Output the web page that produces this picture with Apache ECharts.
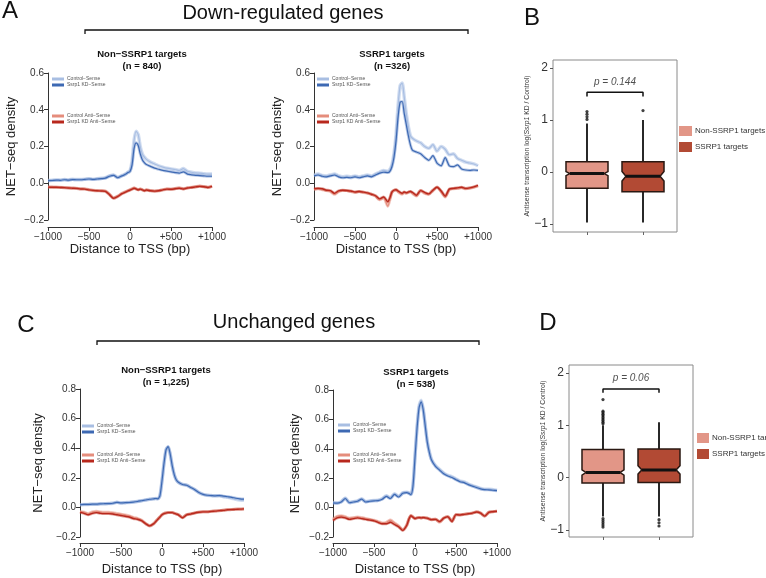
<!DOCTYPE html>
<html><head><meta charset="utf-8">
<script src="https://cdn.jsdelivr.net/npm/echarts@6/dist/echarts.min.js"></script>
<style>html,body{margin:0;padding:0;background:#fff}#c{width:766px;height:578px}</style>
</head><body><div id="c"></div>
<script>
// ---------- DATA ----------
const xs = [-1000,-950,-900,-850,-800,-750,-700,-650,-600,-550,-500,-450,-400,-350,-300,-250,-200,-150,-100,-75,-50,-25,0,25,50,75,100,125,150,175,200,250,300,350,400,450,500,550,600,650,700,750,800,850,900,950,1000];
const seriesNames = ['Control\u2212Sense','Ssrp1 KD\u2212Sense','Control Anti\u2212Sense','Ssrp1 KD Anti\u2212Sense'];

const a1CtrlSense = [0.015,0.016,0.018,0.017,0.020,0.018,0.022,0.020,0.020,0.022,0.025,0.022,0.025,0.027,0.030,0.040,0.045,0.032,0.042, 0.046,0.052,0.060,0.068,0.120,0.235,0.283,0.265,0.200,0.160,0.142, 0.130,0.115,0.105,0.095,0.088,0.082,0.078,0.075,0.070,0.080,0.065,0.060,0.056,0.055,0.052,0.050,0.050];
const a1KdSense = [0.014,0.015,0.017,0.016,0.019,0.017,0.020,0.019,0.019,0.021,0.023,0.021,0.023,0.025,0.028,0.038,0.043,0.030,0.040, 0.044,0.050,0.058,0.064,0.100,0.190,0.220,0.205,0.160,0.128,0.112, 0.102,0.092,0.082,0.076,0.070,0.066,0.062,0.058,0.055,0.062,0.050,0.046,0.043,0.042,0.040,0.038,0.038];
const a1CtrlAnti = [-0.020,-0.021,-0.022,-0.022,-0.023,-0.025,-0.026,-0.027,-0.030,-0.030,-0.035,-0.038,-0.040,-0.040,-0.042,-0.060,-0.080,-0.070,-0.055, -0.050,-0.045,-0.040,-0.035,-0.030,-0.025,-0.030,-0.035,-0.030,-0.035,-0.040, -0.035,-0.040,-0.042,-0.040,-0.035,-0.030,-0.032,-0.028,-0.025,-0.030,-0.025,-0.022,-0.018,-0.015,-0.018,-0.022,-0.015];
const a1KdAnti = [-0.021,-0.022,-0.022,-0.023,-0.024,-0.026,-0.027,-0.028,-0.031,-0.032,-0.036,-0.039,-0.041,-0.042,-0.044,-0.062,-0.082,-0.072,-0.057, -0.052,-0.047,-0.042,-0.037,-0.032,-0.027,-0.031,-0.036,-0.032,-0.036,-0.041, -0.037,-0.041,-0.043,-0.041,-0.036,-0.032,-0.033,-0.030,-0.027,-0.031,-0.026,-0.023,-0.020,-0.017,-0.019,-0.023,-0.017];

const a2CtrlSense = [0.045,0.050,0.042,0.040,0.045,0.050,0.040,0.035,0.038,0.035,0.040,0.035,0.040,0.045,0.040,0.050,0.060,0.070,0.065, 0.075,0.100,0.160,0.260,0.420,0.530,0.545,0.470,0.380,0.310,0.260, 0.245,0.230,0.220,0.200,0.190,0.210,0.175,0.200,0.185,0.155,0.160,0.135,0.125,0.115,0.110,0.105,0.095];
const a2KdSense = [0.040,0.045,0.038,0.035,0.040,0.045,0.035,0.030,0.032,0.030,0.035,0.030,0.035,0.040,0.035,0.045,0.055,0.060,0.058, 0.065,0.090,0.140,0.230,0.360,0.440,0.445,0.380,0.320,0.260,0.210, 0.180,0.170,0.160,0.140,0.125,0.150,0.110,0.095,0.140,0.095,0.090,0.100,0.078,0.072,0.070,0.072,0.070];
const a2CtrlAnti = [-0.035,-0.030,-0.035,-0.040,-0.045,-0.060,-0.045,-0.040,-0.040,-0.045,-0.050,-0.045,-0.050,-0.055,-0.060,-0.070,-0.090,-0.080,-0.125, -0.090,-0.050,-0.040,-0.035,-0.045,-0.055,-0.060,-0.050,-0.055,-0.050,-0.045, -0.055,-0.070,-0.040,-0.055,-0.060,-0.040,-0.020,-0.045,-0.075,-0.035,-0.030,-0.028,-0.025,-0.030,-0.028,-0.022,-0.015];
const a2KdAnti = [-0.030,-0.028,-0.030,-0.038,-0.040,-0.055,-0.042,-0.038,-0.040,-0.042,-0.048,-0.045,-0.048,-0.052,-0.060,-0.068,-0.085,-0.075,-0.100, -0.080,-0.048,-0.038,-0.035,-0.042,-0.050,-0.055,-0.048,-0.052,-0.048,-0.045, -0.050,-0.065,-0.040,-0.050,-0.058,-0.038,-0.022,-0.042,-0.070,-0.032,-0.028,-0.025,-0.022,-0.028,-0.025,-0.020,-0.012];

const c1CtrlSense = [0.018,0.020,0.020,0.022,0.022,0.024,0.025,0.026,0.028,0.035,0.030,0.032,0.033,0.036,0.040,0.045,0.050,0.055,0.058, 0.060,0.058,0.080,0.180,0.300,0.390,0.410,0.360,0.280,0.220,0.185, 0.170,0.155,0.150,0.135,0.120,0.100,0.088,0.082,0.080,0.078,0.078,0.072,0.068,0.062,0.055,0.050,0.048];
const c1KdSense = [0.018,0.020,0.020,0.022,0.022,0.024,0.025,0.026,0.028,0.034,0.030,0.032,0.033,0.036,0.040,0.045,0.050,0.055,0.058, 0.060,0.058,0.080,0.180,0.300,0.390,0.410,0.360,0.280,0.220,0.185, 0.170,0.155,0.150,0.135,0.120,0.100,0.088,0.082,0.080,0.078,0.080,0.076,0.072,0.068,0.062,0.058,0.056];
const c1CtrlAnti = [-0.027,-0.032,-0.042,-0.031,-0.026,-0.031,-0.033,-0.033,-0.036,-0.041,-0.046,-0.051,-0.057,-0.067,-0.074,-0.086,-0.108,-0.123,-0.108, -0.093,-0.078,-0.064,-0.049,-0.041,-0.037,-0.034,-0.034,-0.034,-0.039,-0.044, -0.049,-0.068,-0.049,-0.044,-0.037,-0.032,-0.029,-0.029,-0.026,-0.024,-0.021,-0.019,-0.015,-0.014,-0.012,-0.011,-0.009];
const c1KdAnti = [-0.033,-0.040,-0.050,-0.040,-0.035,-0.040,-0.042,-0.042,-0.045,-0.050,-0.055,-0.060,-0.065,-0.075,-0.080,-0.090,-0.110,-0.125,-0.110, -0.095,-0.080,-0.065,-0.050,-0.042,-0.038,-0.035,-0.035,-0.035,-0.040,-0.045, -0.050,-0.070,-0.050,-0.045,-0.038,-0.033,-0.030,-0.030,-0.027,-0.025,-0.022,-0.020,-0.016,-0.015,-0.013,-0.012,-0.010];

const c2CtrlSense = [0.035,0.032,0.040,0.065,0.035,0.040,0.045,0.060,0.040,0.045,0.048,0.050,0.060,0.080,0.065,0.095,0.075,0.100,0.105, 0.100,0.090,0.150,0.350,0.550,0.690,0.730,0.670,0.560,0.450,0.380, 0.330,0.285,0.260,0.235,0.220,0.210,0.195,0.180,0.175,0.160,0.150,0.140,0.130,0.125,0.125,0.122,0.118];
const c2KdSense = [0.032,0.030,0.038,0.062,0.033,0.038,0.043,0.057,0.038,0.043,0.046,0.048,0.057,0.077,0.062,0.090,0.072,0.097,0.102, 0.097,0.088,0.145,0.340,0.540,0.680,0.720,0.665,0.555,0.445,0.375, 0.325,0.280,0.255,0.230,0.215,0.205,0.190,0.176,0.170,0.156,0.146,0.137,0.127,0.122,0.121,0.118,0.115];
const c2CtrlAnti = [-0.078,-0.060,-0.055,-0.062,-0.072,-0.068,-0.064,-0.068,-0.074,-0.080,-0.086,-0.095,-0.104,-0.100,-0.085,-0.105,-0.125,-0.150,-0.118, -0.078,-0.054,-0.064,-0.074,-0.069,-0.067,-0.069,-0.067,-0.069,-0.071,-0.077, -0.081,-0.079,-0.100,-0.071,-0.061,-0.093,-0.047,-0.049,-0.045,-0.041,-0.037,-0.029,-0.037,-0.056,-0.031,-0.027,-0.024];
const c2KdAnti = [-0.088,-0.070,-0.065,-0.070,-0.080,-0.075,-0.070,-0.075,-0.080,-0.085,-0.090,-0.100,-0.110,-0.110,-0.100,-0.115,-0.130,-0.155,-0.120, -0.080,-0.055,-0.065,-0.075,-0.070,-0.068,-0.070,-0.068,-0.070,-0.072,-0.078, -0.082,-0.080,-0.095,-0.072,-0.062,-0.095,-0.048,-0.050,-0.046,-0.042,-0.038,-0.030,-0.038,-0.058,-0.032,-0.028,-0.025];

const panelTitles = ['Non\u2212SSRP1 targets\n(n = 840)','SSRP1 targets\n(n =326)','Non\u2212SSRP1 targets\n(n = 1,225)','SSRP1 targets\n(n = 538)'];

// box plots: [lowerWhisker, Q1, median, Q3, upperWhisker]
const boxGroups = ['Non-SSRP1 targets','SSRP1 targets'];
const bStats = [[-0.97,-0.31,-0.03,0.20,0.93],[-0.97,-0.38,-0.08,0.20,1.00]];
const bNotch = [0.04,0.09];
const bOutliers = [[1.01,1.06,1.11,1.16],[1.18]];
const bPValue = 'p = 0.144';
const dStats = [[-0.74,-0.10,0.10,0.54,1.00],[-0.74,-0.09,0.15,0.55,1.06]];
const dNotch = [0.05,0.08];
const dOutliers = [[1.03,1.06,1.09,1.12,1.15,1.18,1.21,1.24,1.27,1.49,-0.78,-0.82,-0.86,-0.90,-0.94],[-0.80,-0.86,-0.92]];
const dPValue = 'p = 0.06';

// ---------- STYLE / LAYOUT ----------
const FONT = 'Liberation Sans, Arial, Helvetica, sans-serif';
const lineGrids = [
  {left:48, top:73, width:164, height:147, ymin:-0.2, ymax:0.6, off:7, gap:16, ngap:30, title:[142,49], leg:[52,76,52,113]},
  {left:314, top:73, width:164, height:147, ymin:-0.2, ymax:0.6, off:7, gap:16, ngap:30, title:[392,49], leg:[317,76,317,113]},
  {left:80, top:389, width:164, height:148, ymin:-0.2, ymax:0.8, off:6, gap:20, ngap:35, title:[166,365], leg:[82,423,82,452]},
  {left:333, top:390, width:164, height:147, ymin:-0.2, ymax:0.8, off:6, gap:20, ngap:31, title:[416,367], leg:[338,422,338,452]}
];
const panelData = [
  [a1CtrlSense,a1KdSense,a1CtrlAnti,a1KdAnti],
  [a2CtrlSense,a2KdSense,a2CtrlAnti,a2KdAnti],
  [c1CtrlSense,c1KdSense,c1CtrlAnti,c1KdAnti],
  [c2CtrlSense,c2KdSense,c2CtrlAnti,c2KdAnti]
];
const lineColors = ['#a8bee2','#3d69b3','#e58d7c','#b8281d'];
const bandColors = ['rgba(170,192,228,0.55)','rgba(110,145,205,0.45)','rgba(232,150,135,0.55)','rgba(190,60,45,0.45)'];
const lineWidths = [1.2,1.2,1.2,1.4];
const bandWidths = [3.5,3,3,3];
const boxColors = ['#e29687','#b24a34'];

const boxGrids = [
  {left:553, top:60, width:124, height:172, ymin:-1.15, ymax:2.15, stats:bStats, notch:bNotch, out:bOutliers, p:bPValue, br:[1.45,1.53], pv:1.72, leg:[679,126], ngap:18, lw:13},
  {left:569, top:365, width:124, height:172, ymin:-1.13, ymax:2.15, stats:dStats, notch:dNotch, out:dOutliers, p:dPValue, br:[1.62,1.69], pv:1.89, leg:[697,433], ngap:19, lw:12}
];

const minus = s => String(s).replace('-', '\u2212');
const grid = [], xAxis = [], yAxis = [], series = [], legend = [], graphic = [];

lineGrids.forEach((g, gi) => {
  grid.push({left:g.left, top:g.top, width:g.width, height:g.height, containLabel:false});
  xAxis.push({gridIndex:gi, type:'value', min:-1000, max:1000, interval:500, offset:g.off, position:'bottom',
    axisLine:{onZero:false, lineStyle:{color:'#333', width:1}}, axisTick:{length:4, lineStyle:{color:'#333'}},
    axisLabel:{fontSize:10, color:'#333', margin:5, fontFamily:FONT,
      formatter: v => v > 0 ? '+' + v : (v < 0 ? '\u2212' + Math.abs(v) : '0')},
    splitLine:{show:false}, name:'Distance to TSS (bp)', nameLocation:'middle', nameGap:g.gap,
    nameTextStyle:{fontSize:13, color:'#222', fontFamily:FONT}});
  yAxis.push({gridIndex:gi, type:'value', min:g.ymin, max:g.ymax, interval:0.2, position:'left',
    axisLine:{show:true, onZero:false, lineStyle:{color:'#333', width:1}}, axisTick:{show:true, length:4, lineStyle:{color:'#333'}},
    axisLabel:{fontSize:10, color:'#333', margin:4, fontFamily:FONT, formatter: v => minus(v.toFixed(1))},
    splitLine:{show:false}, name:'NET\u2212seq density', nameLocation:'middle', nameGap:g.ngap,
    nameTextStyle:{fontSize:13, color:'#222', fontFamily:FONT}});
  panelData[gi].forEach((vals, si) => {
    const pts = xs.map((x, i) => [x, vals[i]]);
    series.push({type:'line', name:seriesNames[si] + ' band', xAxisIndex:gi, yAxisIndex:gi, data:pts,
      showSymbol:false, symbol:'none', smooth:0.25, silent:true, z:2,
      lineStyle:{color:bandColors[si], width:bandWidths[si]}, itemStyle:{color:bandColors[si]}});
    series.push({type:'line', name:seriesNames[si], xAxisIndex:gi, yAxisIndex:gi, data:pts,
      showSymbol:false, symbol:'none', smooth:0.25, silent:true, z:3,
      lineStyle:{color:lineColors[si], width:lineWidths[si]}, itemStyle:{color:lineColors[si]}});
  });
  const legBase = {orient:'vertical', icon:'rect', itemWidth:12, itemHeight:3, itemGap:0, padding:0,
    selectedMode:false, textStyle:{fontSize:5, color:'#555', lineHeight:6, fontFamily:FONT, padding:[0,0,0,-2]}};
  legend.push(Object.assign({}, legBase, {left:g.leg[0], top:g.leg[1], data:[seriesNames[0], seriesNames[1]]}));
  legend.push(Object.assign({}, legBase, {left:g.leg[2], top:g.leg[3], data:[seriesNames[2], seriesNames[3]]}));
  graphic.push({type:'text', x:g.title[0], y:g.title[1],
    style:{text:panelTitles[gi], fill:'#111', align:'center', lineHeight:11.5, font:'bold 9.5px ' + FONT}});
});

boxGrids.forEach((b, bi) => {
  const gi = 4 + bi;
  grid.push({left:b.left, top:b.top, width:b.width, height:b.height, show:true, borderColor:'#8a8a8a', borderWidth:1, backgroundColor:'transparent'});
  xAxis.push({gridIndex:gi, type:'value', min:-0.607, max:1.607, position:'bottom',
    axisLine:{show:false, onZero:false},
    axisTick:{show:true, length:3, customValues:[0,1], lineStyle:{color:'#666'}},
    axisLabel:{show:false}, splitLine:{show:false}});
  yAxis.push({gridIndex:gi, type:'value', min:b.ymin, max:b.ymax, position:'left',
    axisLine:{show:false, onZero:false},
    axisTick:{show:true, length:3, customValues:[-1,0,1,2], lineStyle:{color:'#555'}},
    axisLabel:{fontSize:12, color:'#333', margin:5, customValues:[-1,0,1,2], fontFamily:FONT, formatter: v => minus(v)},
    splitLine:{show:false},
    name:'{t|Antisense transcription log(}{i|Ssrp1}{t| KD / Control)}', nameLocation:'middle', nameGap:b.ngap,
    nameTextStyle:{rich:{t:{fontSize:6.8, color:'#333', fontFamily:FONT}, i:{fontSize:6.8, color:'#333', fontStyle:'italic', fontFamily:FONT}}}});
  b.stats.forEach((st, k) => {
    series.push({type:'custom', name:boxGroups[k], xAxisIndex:gi, yAxisIndex:gi, z:3,
      itemStyle:{color:boxColors[k]},
      data:[[k, st[0], st[1], st[2], st[3], st[4], b.notch[k]]],
      renderItem:(params, api) => {
        const x = api.value(0), lo = api.value(1), q1 = api.value(2), md = api.value(3), q3 = api.value(4), hi = api.value(5), nh = api.value(6);
        const hw = 0.375, ind = 0.07;
        const P = (dx, y) => api.coord([x + dx, y]);
        const pts = [P(-hw,q3),P(hw,q3),P(hw,md+nh),P(hw-ind,md),P(hw,md-nh),P(hw,q1),P(-hw,q1),P(-hw,md-nh),P(-hw+ind,md),P(-hw,md+nh)];
        const c = P(0, 0)[0];
        return {type:'group', children:[
          {type:'line', shape:{x1:c, y1:P(0,q3)[1], x2:c, y2:P(0,hi)[1]}, style:{stroke:'#111', lineWidth:1.8}},
          {type:'line', shape:{x1:c, y1:P(0,q1)[1], x2:c, y2:P(0,lo)[1]}, style:{stroke:'#111', lineWidth:1.8}},
          {type:'polygon', shape:{points:pts}, style:{fill:api.visual('color'), stroke:'#2a1812', lineWidth:1.5}},
          {type:'line', shape:{x1:P(-hw+ind,md)[0], y1:P(0,md)[1], x2:P(hw-ind,md)[0], y2:P(0,md)[1]}, style:{stroke:'#111', lineWidth:3}}
        ]};
      }});
    series.push({type:'scatter', name:'outliers ' + k, xAxisIndex:gi, yAxisIndex:gi, z:4, silent:true,
      data:b.out[k].map(v => [k, v]), symbolSize:3.2, itemStyle:{color:'#111'}});
  });
  series.push({type:'line', name:'bracket', xAxisIndex:gi, yAxisIndex:gi, silent:true, symbol:'none', z:4,
    data:[[0,b.br[0]],[0,b.br[1]],[1,b.br[1]],[1,b.br[0]]], lineStyle:{color:'#111', width:1.5}});
  series.push({type:'scatter', name:'pvalue', xAxisIndex:gi, yAxisIndex:gi, silent:true, z:4,
    data:[[0.5,b.pv]], symbolSize:1, itemStyle:{color:'rgba(0,0,0,0)'},
    label:{show:true, position:'inside', formatter:b.p, fontSize:10, fontStyle:'italic', color:'#222', fontFamily:FONT}});
  legend.push({orient:'vertical', left:b.leg[0], top:b.leg[1], icon:'rect', itemWidth:b.lw, itemHeight:10, itemGap:6, padding:0,
    selectedMode:false, data:boxGroups, textStyle:{fontSize:8, color:'#333', fontFamily:FONT, padding:[0,0,0,-2]}});
});

// headings, brackets, panel letters
const T = (txt, x, y, size) => ({type:'text', x:x, y:y,
  style:{text:txt, font: size + 'px ' + FONT, fill:'#111', align:'center', verticalAlign:'middle'}});
graphic.push(T('A', 10, 11, 24), T('B', 532, 18, 24), T('C', 26, 325, 24), T('D', 548, 323, 24));
graphic.push(T('Down-regulated genes', 283, 13, 20), T('Unchanged genes', 294, 322, 20));
graphic.push({type:'polyline', shape:{points:[[85,34],[85,30],[468,30],[468,34]]}, style:{stroke:'#111', lineWidth:1.3, fill:null}});
graphic.push({type:'polyline', shape:{points:[[97,345],[97,341],[479,341],[479,345]]}, style:{stroke:'#111', lineWidth:1.3, fill:null}});

const chart = echarts.init(document.getElementById('c'), null, {renderer:'canvas'});
chart.setOption({animation:false, backgroundColor:'#fff', textStyle:{fontFamily:FONT},
  grid, xAxis, yAxis, series, legend, graphic});
</script>
</body></html>
